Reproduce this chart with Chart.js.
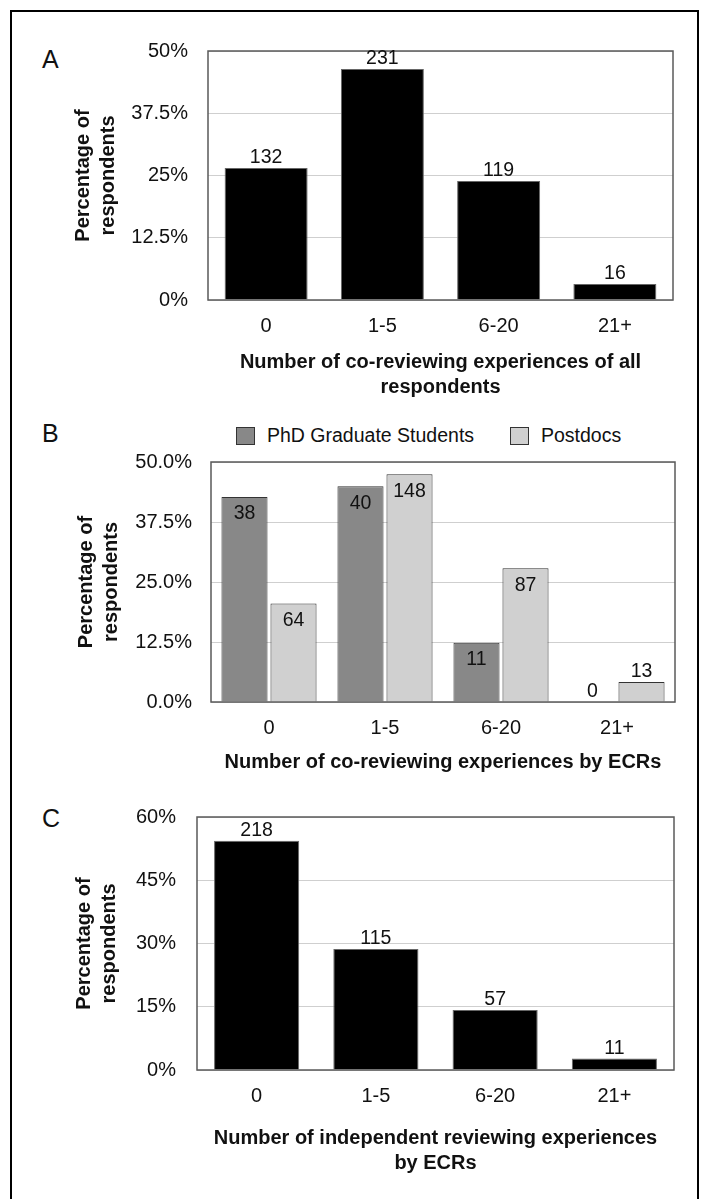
<!DOCTYPE html>
<html>
<head>
<meta charset="utf-8">
<title>Reviewing experiences</title>
<script src="https://cdn.jsdelivr.net/npm/chart.js@4.4.1/dist/chart.umd.min.js"></script>
<style>
  html, body { margin: 0; padding: 0; background: #fff; }
  body {
    width: 701px; height: 1199px; position: relative; overflow: hidden;
    font-family: "Liberation Sans", Arial, Helvetica, sans-serif; color: #111;
  }
  .frame {
    position: absolute; left: 10px; top: 10px; width: 689px; height: 1300px;
    border: 2px solid #000; box-sizing: border-box;
  }
  canvas { position: absolute; left: 0; }
  .letter { position: absolute; left: 42px; font-size: 25px; line-height: 1; }
  .legend-item { position: absolute; top: 426px; font-size: 19.5px; line-height: 1; white-space: nowrap; }
  .swatch {
    position: absolute; top: 427px; width: 19px; height: 18px;
    border: 1px solid #333; box-sizing: border-box;
  }
</style>
</head>
<body>
<div class="frame"></div>

<div class="letter" style="top:47px">A</div>
<div class="letter" style="top:421px">B</div>
<div class="letter" style="top:806px">C</div>

<div class="swatch" style="left:236px;background:#888"></div>
<div class="legend-item" style="left:267px">PhD Graduate Students</div>
<div class="swatch" style="left:510px;background:#d0d0d0"></div>
<div class="legend-item" style="left:541px">Postdocs</div>

<canvas id="chartA" width="701" height="400" style="top:0"></canvas>
<canvas id="chartB" width="701" height="380" style="top:400px"></canvas>
<canvas id="chartC" width="701" height="419" style="top:780px"></canvas>

<script>
// ---- data ----
const CATEGORIES = ['0', '1-5', '6-20', '21+'];
const ALL_COUNTS = [132, 231, 119, 16];
const PHD_COUNTS = [38, 40, 11, 0];
const POSTDOC_COUNTS = [64, 148, 87, 13];
const INDEPENDENT_COUNTS = [218, 115, 57, 11];

const TICKS_A = [0, 12.5, 25, 37.5, 50];
const TICKS_B = [0, 12.5, 25, 37.5, 50];
const TICKS_C = [0, 15, 30, 45, 60];

const FONT = '"Liberation Sans", Arial, Helvetica, sans-serif';
Chart.defaults.font.family = FONT;
Chart.defaults.color = '#111';

// counts -> share of respondents in the group (%)
function toPercent(counts) {
    const total = counts.reduce((a, b) => a + b, 0);
    return counts.map(c => c / total * 100);
}

// box around the plot area
const framePlugin = {
    id: 'frame',
    afterDatasetsDraw(chart) {
        const { ctx, chartArea: a } = chart;
        ctx.save();
        ctx.strokeStyle = '#5a5a5a';
        ctx.lineWidth = 1.5;
        ctx.strokeRect(a.left, a.top, a.right - a.left, a.bottom - a.top);
        ctx.restore();
    }
};

// respondent counts printed on each bar
const countLabels = {
    id: 'countLabels',
    afterDatasetsDraw(chart, args, opts) {
        const ctx = chart.ctx;
        ctx.save();
        ctx.font = '19.5px ' + FONT;
        ctx.fillStyle = '#111';
        ctx.textAlign = 'center';
        ctx.textBaseline = 'middle';
        chart.data.datasets.forEach((ds, i) => {
            chart.getDatasetMeta(i).data.forEach((bar, j) => {
                const h = bar.base - bar.y;
                const y = h > opts.insideMin ? bar.y + 17 : bar.y - 10;
                ctx.fillText(String(ds.counts[j]), bar.x, y);
            });
        });
        ctx.restore();
    }
};

function makeChart(id, cfg) {
    const titleFont = { size: 20, weight: 'bold', lineHeight: 1.25 };
    return new Chart(document.getElementById(id), {
        type: 'bar',
        data: { labels: CATEGORIES, datasets: cfg.datasets },
        options: {
            responsive: false,
            animation: false,
            devicePixelRatio: 1,
            layout: { padding: { top: cfg.padTop, right: cfg.padRight, bottom: 0, left: 0 } },
            plugins: {
                legend: { display: false },
                tooltip: { enabled: false },
                countLabels: { insideMin: cfg.insideMin }
            },
            datasets: {
                bar: {
                    categoryPercentage: cfg.catPct,
                    barPercentage: cfg.barPct,
                    borderWidth: 1
                }
            },
            scales: {
                x: {
                    afterFit: s => { s.height = cfg.xHeight; },
                    grid: { display: false, drawTicks: false },
                    border: { display: false },
                    ticks: { padding: 14, font: { size: 20 }, color: '#111' },
                    title: {
                        display: true, text: cfg.xTitle, color: '#111',
                        font: titleFont, padding: { top: 0, bottom: cfg.xTitlePad }
                    }
                },
                y: {
                    min: 0,
                    max: cfg.yTicks[cfg.yTicks.length - 1],
                    afterBuildTicks: s => { s.ticks = cfg.yTicks.map(v => ({ value: v })); },
                    afterFit: s => { s.width = cfg.yWidth; },
                    grid: { color: '#cfcfcf', lineWidth: 1, drawTicks: false },
                    border: { display: false },
                    ticks: { padding: cfg.yPad, font: { size: 20 }, color: '#111', callback: cfg.fmt },
                    title: {
                        display: true, text: ['Percentage of', 'respondents'], color: '#111',
                        font: titleFont, padding: { top: cfg.yTitlePad, bottom: 0 }
                    }
                }
            }
        },
        plugins: [framePlugin, countLabels]
    });
}

const pctInt = v => v + '%';
const pctOne = v => v.toFixed(1) + '%';

// A: co-reviewing, all respondents
makeChart('chartA', {
    datasets: [{
        data: toPercent(ALL_COUNTS), counts: ALL_COUNTS,
        backgroundColor: '#000', borderColor: '#666'
    }],
    yTicks: TICKS_A, fmt: pctInt,
    padTop: 51, padRight: 28, yWidth: 208, xHeight: 100,
    yPad: 20, yTitlePad: 70.5, xTitlePad: 0.5,
    xTitle: ['Number of co-reviewing experiences of all', 'respondents'],
    catPct: 1, barPct: 0.714, insideMin: Infinity
});

// B: co-reviewing by career stage
makeChart('chartB', {
    datasets: [
        { data: toPercent(PHD_COUNTS), counts: PHD_COUNTS, backgroundColor: '#888', borderColor: '#333' },
        { data: toPercent(POSTDOC_COUNTS), counts: POSTDOC_COUNTS, backgroundColor: '#d0d0d0', borderColor: '#333' }
    ],
    yTicks: TICKS_B, fmt: pctOne,
    padTop: 62, padRight: 26, yWidth: 211, xHeight: 78,
    yPad: 19, yTitlePad: 73.5, xTitlePad: 5.5,
    xTitle: 'Number of co-reviewing experiences by ECRs',
    catPct: 0.845, barPct: 0.94, insideMin: 30
});

// C: independent reviewing
makeChart('chartC', {
    datasets: [{
        data: toPercent(INDEPENDENT_COUNTS), counts: INDEPENDENT_COUNTS,
        backgroundColor: '#000', borderColor: '#666'
    }],
    yTicks: TICKS_C, fmt: pctInt,
    padTop: 37, padRight: 27, yWidth: 197, xHeight: 129,
    yPad: 21, yTitlePad: 71.5, xTitlePad: 23.5,
    xTitle: ['Number of independent reviewing experiences', 'by ECRs'],
    catPct: 1, barPct: 0.714, insideMin: Infinity
});
</script>
</body>
</html>
